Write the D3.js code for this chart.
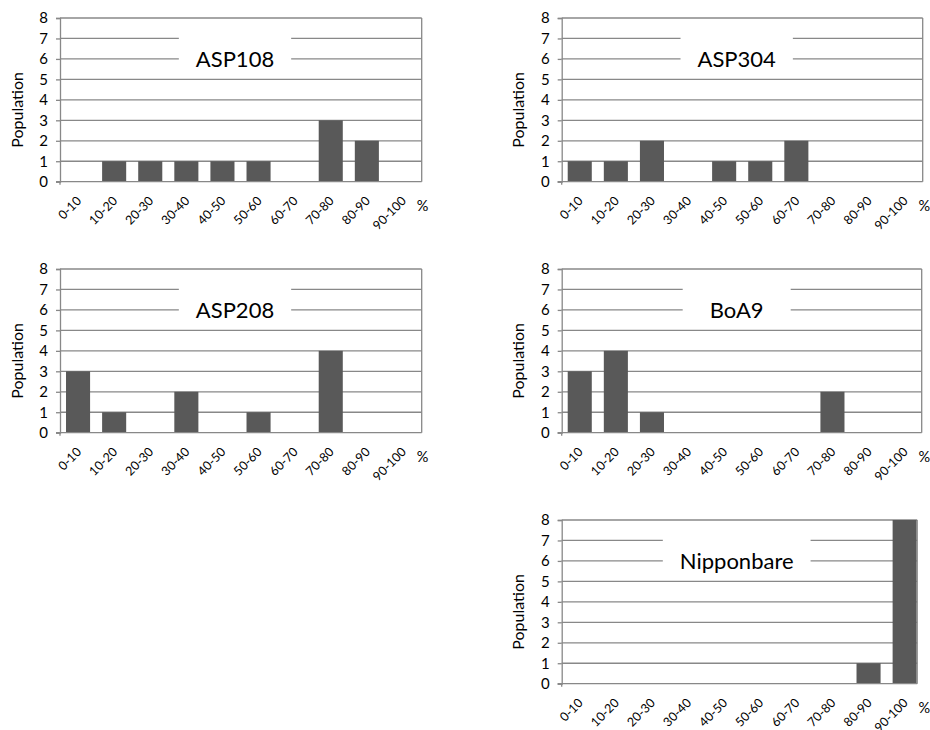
<!DOCTYPE html>
<html lang="en">
<head>
<meta charset="UTF-8">
<script src="https://d3js.org/d3.v7.min.js"></script>
<title>Population histograms</title>
<style>
  body { margin: 0; background: #fff; }
  svg { display: block; }
  svg text { font-family: Lato, "Open Sans", sans-serif; fill: #000; }
</style>
</head>
<body>
<div id="chart"></div>
<script>
// categories (percent classes) and population counts per line
var categories = ["0-10", "10-20", "20-30", "30-40", "40-50", "50-60", "60-70", "70-80", "80-90", "90-100"];
var asp108 = [0, 1, 1, 1, 1, 1, 0, 3, 2, 0];
var asp304 = [1, 1, 2, 0, 1, 1, 2, 0, 0, 0];
var asp208 = [3, 1, 0, 2, 0, 1, 0, 4, 0, 0];
var boa9 = [3, 4, 1, 0, 0, 0, 0, 2, 0, 0];
var nipponbare = [0, 0, 0, 0, 0, 0, 0, 0, 1, 8];
var yTicks = [0, 1, 2, 3, 4, 5, 6, 7, 8];

var width = 930, height = 730;
var plotH = 163.7, plotW = 361;
var gridColor = "#888888", barColor = "#595959";

var panels = [
  {name: "ASP108", values: asp108, left: 60, top: 18, gridW: 361.7},
  {name: "ASP304", values: asp304, left: 561.7, top: 18, gridW: 361},
  {name: "ASP208", values: asp208, left: 60, top: 269, gridW: 361.7},
  {name: "BoA9", values: boa9, left: 561.7, top: 269, gridW: 360},
  {name: "Nipponbare", values: nipponbare, left: 561.7, top: 520, gridW: 355.5}
];

var svg = d3.select("#chart").append("svg")
  .attr("width", width)
  .attr("height", height);

var y = d3.scaleLinear().domain([0, 8]).range([plotH, 0]);

panels.forEach(function(p) {
  var x = d3.scaleBand()
    .domain(categories)
    .range([0, plotW])
    .paddingInner(1 / 3)
    .paddingOuter(1 / 6);

  var g = svg.append("g")
    .attr("transform", "translate(" + p.left + "," + p.top + ")");

  // horizontal gridlines
  g.append("g")
    .selectAll("line")
    .data(yTicks.filter(function(d) { return d > 0; }))
    .enter().append("line")
      .attr("x1", 0).attr("x2", p.gridW)
      .attr("y1", function(d) { return y(d); })
      .attr("y2", function(d) { return y(d); })
      .attr("stroke", gridColor)
      .attr("stroke-width", 1.3);

  // title with a white box behind it, sized to the text
  var ty = y(6);
  var box = g.append("rect").attr("fill", "#fff");
  var title = g.append("text")
    .attr("x", 175).attr("y", ty)
    .attr("dy", "0.36em")
    .attr("text-anchor", "middle")
    .style("font-size", "22px")
    .text(p.name);
  var tw = title.node().getComputedTextLength();
  var bw = Math.max(108, tw + 34);
  box.attr("x", 175 - bw / 2).attr("y", ty - 25)
    .attr("width", bw).attr("height", 41);

  // bars
  g.append("g")
    .selectAll("rect")
    .data(p.values)
    .enter().append("rect")
      .attr("x", function(d, i) { return x(categories[i]); })
      .attr("width", x.bandwidth())
      .attr("y", function(d) { return y(d); })
      .attr("height", function(d) { return plotH - y(d); })
      .attr("fill", barColor);

  // right border
  g.append("line")
    .attr("x1", p.gridW).attr("x2", p.gridW)
    .attr("y1", 0).attr("y2", plotH)
    .attr("stroke", gridColor).attr("stroke-width", 1.3);

  // y axis
  var yAxis = g.append("g")
    .call(d3.axisLeft(y).tickValues(yTicks).tickSize(4).tickPadding(8));
  yAxis.select(".domain").attr("stroke", gridColor).attr("stroke-width", 1.3);
  yAxis.selectAll(".tick line").attr("stroke", gridColor).attr("stroke-width", 1.3);
  yAxis.selectAll(".tick text")
    .style("font-size", "15px")
    .attr("fill", "#000");
  yAxis.append("line")
    .attr("x1", 0).attr("x2", 0)
    .attr("y1", plotH).attr("y2", plotH + 3)
    .attr("stroke", gridColor).attr("stroke-width", 1.3);

  // x axis baseline
  g.append("line")
    .attr("x1", -4).attr("x2", p.gridW)
    .attr("y1", plotH).attr("y2", plotH)
    .attr("stroke", gridColor).attr("stroke-width", 1.3);

  // rotated category labels
  g.append("g")
    .selectAll("text")
    .data(categories)
    .enter().append("text")
      .attr("transform", function(d) {
        return "translate(" + (x(d) + x.bandwidth() / 2 + 4) + "," + (plotH + 20) + ") rotate(-45)";
      })
      .attr("text-anchor", "end")
      .style("font-size", "12.5px")
      .text(function(d) { return d; });

  g.append("text")
    .attr("x", plotW + 1.5).attr("y", plotH + 24)
    .attr("dy", "0.35em")
    .attr("text-anchor", "middle")
    .style("font-size", "14.5px")
    .text("%");

  // y axis title
  g.append("text")
    .attr("transform", "translate(-43," + (plotH / 2 + 10) + ") rotate(-90)")
    .attr("dy", "0.35em")
    .attr("text-anchor", "middle")
    .style("font-size", "16px")
    .text("Population");
});
</script>
</body>
</html>
